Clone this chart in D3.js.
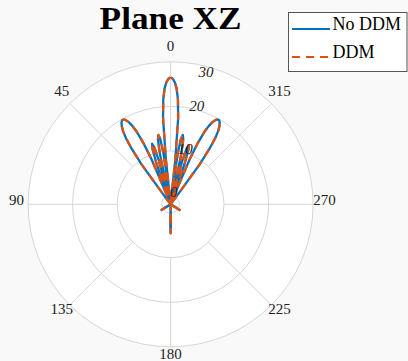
<!DOCTYPE html>
<html><head><meta charset="utf-8">
<script src="https://cdn.jsdelivr.net/npm/d3@7"></script>
<style>html,body{margin:0;padding:0;background:#f9f9f9;} svg{display:block;}</style>
</head><body>
<svg id="c" width="408" height="361"></svg>
<script>
// ---- data (angles in degrees, 0 at top, counter-clockwise; values in dB) ----
const thetaDeg = [0,1,2,3,4,5,6,6.5,7,8,9,10,11,12,13,13.5,14,15,16,17,18,19,20,20.5,
  22,23,24,25,26,27,28,29,30,31,32,33,34,35,36,37,37.5,60,90,
  118,120,122,124,126,150,178,179,180,181,182,210,234,236,238,240,242,270,300,
  322.5,323,324,325,326,327,328,329,330,331,332,333,334,335,336,337,338,
  339.5,340,341,342,343,344,345,346,346.5,347,348,349,350,351,352,353,353.5,
  354,355,356,357,358,359,360];
const noDDM = [26.5,26.2,25.4,24.0,21.6,17.5,8.2,-10,0.8,9.7,12.9,13.8,12.9,9.7,0.8,-10,-0.8,8.1,11.3,12.2,11.3,8.1,-0.8,-10,
  -0.2,9.1,13.3,15.9,17.6,18.7,19.4,19.8,19.8,19.4,18.7,17.6,15.9,13.3,9.1,-0.2,-10,-10,-10,
  -10,-1,0.4,-1,-10,-10,-10,2.5,4.5,2.5,-10,-10,-10,-1,0.4,-1,-10,-10,-10,
  -10,-0.2,9.1,13.3,15.9,17.6,18.7,19.4,19.8,19.8,19.4,18.7,17.6,15.9,13.3,9.1,-0.2,
  -10,-1.1,7.8,11.0,11.9,11.0,7.8,-1.1,-10,0.8,9.7,12.9,13.8,12.9,9.7,0.8,-10,
  8.2,17.5,21.6,24.0,25.4,26.2,26.5];
const ddm = [26.5,26.2,25.4,24.0,21.6,17.5,8.2,-10,0.8,9.7,12.9,13.8,12.9,9.7,0.8,-10,-0.8,8.1,11.3,12.2,11.3,8.1,-0.8,-10,
  -0.2,9.1,13.3,15.9,17.6,18.7,19.4,19.8,19.8,19.4,18.7,17.6,15.9,13.3,9.1,-0.2,-10,-10,-10,
  -10,-1,0.4,-1,-10,-10,-10,2.5,4.5,2.5,-10,-10,-10,-1,0.4,-1,-10,-10,-10,
  -10,-0.2,9.1,13.3,15.9,17.6,18.7,19.4,19.8,19.8,19.4,18.7,17.6,15.9,13.3,9.1,-0.2,
  -10,-1.1,7.8,11.0,11.9,11.0,7.8,-1.1,-10,0.8,9.7,12.9,13.8,12.9,9.7,0.8,-10,
  8.2,17.5,21.6,24.0,25.4,26.2,26.5];
const seriesNames = ["No DDM", "DDM"];
const thetaTicks = [0,45,90,135,180,225,270,315];
const rTicks = [0,10,20,30];
const rLim = [-2,30];
const titleText = "Plane XZ";

// ---- layout ----
const svg = d3.select("#c");
const cx = 170.6, cy = 204.3, R = 142.5;
const serif = "'Liberation Serif','Times New Roman',serif";
const gridCol = "#d6d6d6";
const colors = ["#0072BD", "#D95319"];

const r = d3.scaleLinear().domain(rLim).range([0, R]).clamp(true);
const ang = d => -d * Math.PI / 180; // CCW from top

const g = svg.append("g").attr("transform", `translate(${cx},${cy})`);

g.append("circle").attr("r", R).attr("fill", "#ffffff");

g.selectAll("circle.ring").data(rTicks).join("circle")
  .attr("class", "ring").attr("r", d => r(d))
  .attr("fill", "none").attr("stroke", gridCol).attr("stroke-width", 1);

const spokeStart = r(rTicks[1]);
g.selectAll("line.spoke").data(thetaTicks).join("line")
  .attr("class", "spoke")
  .attr("x1", d => spokeStart * Math.sin(ang(d)))
  .attr("y1", d => -spokeStart * Math.cos(ang(d)))
  .attr("x2", d => R * Math.sin(ang(d)))
  .attr("y2", d => -R * Math.cos(ang(d)))
  .attr("stroke", gridCol).attr("stroke-width", 1);

const line = d3.lineRadial()
  .angle(d => ang(d[0]))
  .radius(d => r(d[1]))
  .curve(d3.curveLinear);

const s1 = thetaDeg.map((t, i) => [t, noDDM[i]]);
const s2 = thetaDeg.map((t, i) => [t, ddm[i]]);

g.append("path").attr("d", line(s1)).attr("fill", "none")
  .attr("stroke", colors[0]).attr("stroke-width", 2.3).attr("stroke-linejoin", "round");
g.append("path").attr("d", line(s2)).attr("fill", "none")
  .attr("stroke", colors[1]).attr("stroke-width", 2.3).attr("stroke-dasharray", "8,6")
  .attr("stroke-linejoin", "round");

const tLab = 154;
g.selectAll("text.tl").data(thetaTicks).join("text")
  .attr("class", "tl")
  .attr("x", d => tLab * Math.sin(ang(d)))
  .attr("y", d => -tLab * Math.cos(ang(d)) - 4.5)
  .attr("text-anchor", "middle").attr("dominant-baseline", "central")
  .attr("font-family", serif).attr("font-size", 15).attr("fill", "#222")
  .text(d => d);

const rAng = ang(345);
g.selectAll("text.rl").data(rTicks).join("text")
  .attr("class", "rl")
  .attr("x", d => Math.min(r(d) + 3.5, R - 5.5) * Math.sin(rAng))
  .attr("y", d => -Math.min(r(d) + 3.5, R - 5.5) * Math.cos(rAng))
  .attr("text-anchor", "middle").attr("dominant-baseline", "central")
  .attr("font-family", serif).attr("font-style", "italic").attr("font-size", 15).attr("fill", "#222")
  .text(d => d);

svg.append("text").attr("x", cx).attr("y", 29)
  .attr("text-anchor", "middle")
  .attr("font-family", serif).attr("font-weight", "bold").attr("font-size", 32.5)
  .attr("textLength", 142).attr("lengthAdjust", "spacingAndGlyphs")
  .attr("fill", "#000").text(titleText);

const lg = svg.append("g");
lg.append("rect").attr("x", 288.5).attr("y", 12.5).attr("width", 118.5).attr("height", 59)
  .attr("fill", "#fff").attr("stroke", "#555").attr("stroke-width", 1);
const legY = [29, 57];
seriesNames.forEach((name, i) => {
  lg.append("line").attr("x1", 292).attr("x2", 330).attr("y1", legY[i]).attr("y2", legY[i])
    .attr("stroke", colors[i]).attr("stroke-width", 2)
    .attr("stroke-dasharray", i === 1 ? "8,6" : null);
  lg.append("text").attr("x", 332.5).attr("y", legY[i] + 1)
    .attr("font-family", serif).attr("font-size", 18).attr("fill", "#000")
    .text(name);
});
</script>
</body></html>
